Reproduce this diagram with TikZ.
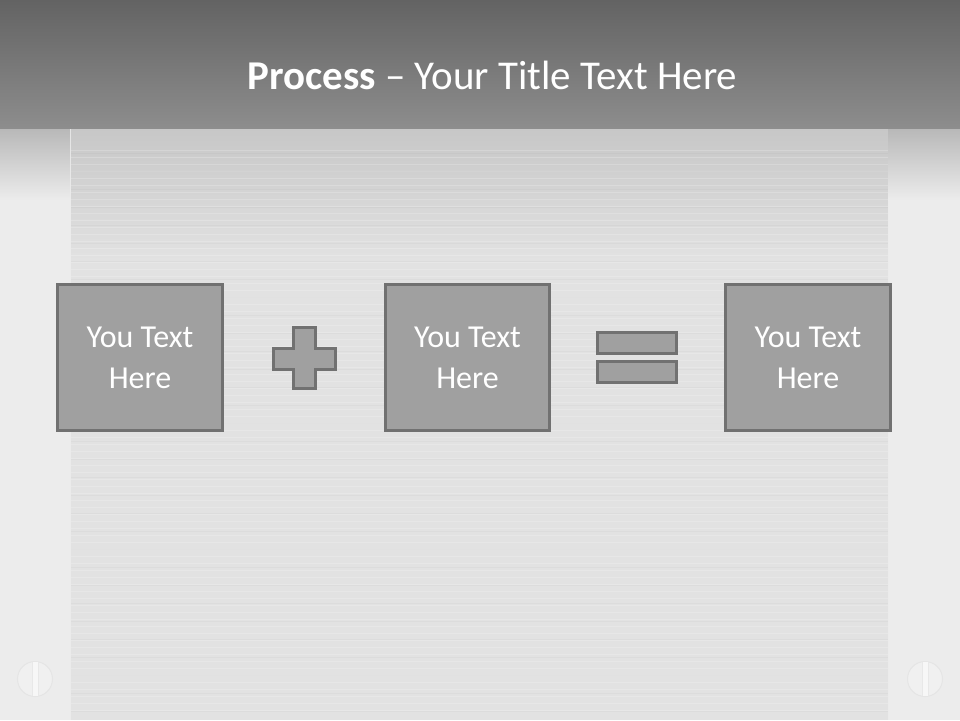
\documentclass[tikz,border=0pt]{standalone}
\usepackage{fontspec}
\setmainfont{Carlito}
\usetikzlibrary{positioning}

\definecolor{boxfill}{HTML}{A0A0A0}
\definecolor{boxline}{HTML}{717171}
\definecolor{headtop}{HTML}{636363}
\definecolor{headbot}{HTML}{8D8D8D}
\definecolor{panel}{HTML}{E2E2E2}
\definecolor{sidepanel}{HTML}{ECECEC}

\tikzset{
  textbox/.style={draw=boxline, fill=boxfill, line width=0.06cm, minimum width=3.3cm, minimum height=2.92cm, inner sep=0pt, align=center, text=white, font=\fontsize{18.2}{23.2}\selectfont},
  signshape/.style={draw=boxline, fill=boxfill, line width=0.06cm},
  screw/.style={fill=sidepanel!80!white, draw=black!10, line width=0.02cm}
}

\begin{document}
\begin{tikzpicture}[x=0.02cm, y=-0.02cm]
  \useasboundingbox (0,0) rectangle (960,720);
  % background
  \fill[sidepanel] (0,128) rectangle (960,720);
  \shade[top color=black!22, bottom color=panel] (70,128) rectangle (888,260);
  \fill[panel] (70,260) rectangle (888,720);
  \foreach \y in {150,157,...,715} { \draw[white, opacity=0.2, line width=0.01cm] (70,\y) -- (888,\y); }
  \foreach \y in {153,171,...,715} { \draw[black, opacity=0.025, line width=0.02cm] (70,\y) -- (888,\y); }
  \draw[black!8, line width=0.02cm] (70,128) -- (70,720);
  \draw[black!8, line width=0.02cm] (888,128) -- (888,720);
  \shade[top color=black!28, bottom color=sidepanel] (0,128) rectangle (70,200);
  \shade[top color=black!28, bottom color=sidepanel] (888,128) rectangle (960,200);
  % header
  \shade[top color=headtop, bottom color=headbot] (0,0) rectangle (960,128);
  \node[text=white, font=\fontsize{23.3}{28}\selectfont] (title) at (492.5,75) {\textbf{Process} – Your Title Text Here};
  % boxes
  \node[textbox] (first) at (140,357.5) {You Text\\Here};
  \node[textbox] (second) at (467.5,357.5) {You Text\\Here};
  \node[textbox] (result) at (808,357.5) {You Text\\Here};
  % plus and equals
  \draw[signshape] (293,327) -- (315,327) -- (315,348) -- (335,348) -- (335,369) -- (315,369) -- (315,388) -- (293,388) -- (293,369) -- (273,369) -- (273,348) -- (293,348) -- cycle;
  \draw[signshape] (597,332) rectangle (676,353);
  \draw[signshape] (597,361) rectangle (676,382);
  % screws
  \foreach \x in {35,925} {
    \fill[screw] (\x,679) circle (17.5);
    \fill[white!97!black] (\x-3,662) rectangle (\x+3,696);
    \draw[black!9, line width=0.02cm] (\x-3,662) -- (\x-3,696) (\x+3,662) -- (\x+3,696);
  }
\end{tikzpicture}
\end{document}
